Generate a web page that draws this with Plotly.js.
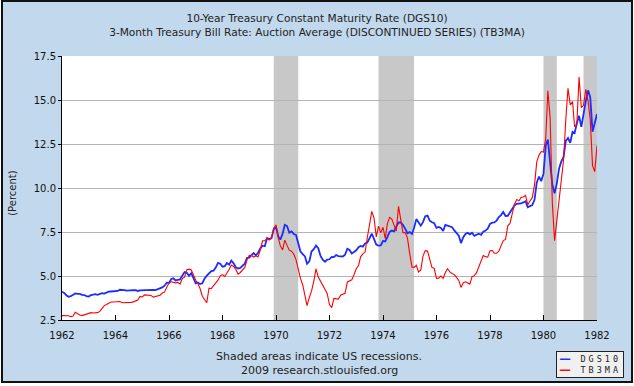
<!DOCTYPE html>
<html><head><meta charset="utf-8">
<script src="https://cdn.plot.ly/plotly-3.0.1.min.js"></script>
<style>
html,body{margin:0;padding:0;background:#fff;}
#chart{position:absolute;left:1px;top:0px;width:628px;height:379px;border:2px solid #111;}
</style></head><body><div id="chart"></div>
<script>
const startYear = 1962;
// DGS10 monthly (Jan 1962 .. Jan 1982)
const dgs10 = [
4.10,4.04,3.90,3.82,3.85,3.91,4.01,3.98,3.98,3.93,3.92,3.86,
3.83,3.92,3.93,3.97,3.93,3.99,4.02,4.00,4.08,4.11,4.12,4.13,
4.17,4.15,4.22,4.23,4.20,4.17,4.19,4.19,4.20,4.19,4.15,4.18,
4.19,4.21,4.21,4.20,4.21,4.21,4.20,4.25,4.29,4.35,4.45,4.62,
4.61,4.83,4.87,4.75,4.78,4.81,5.02,5.22,5.18,5.01,5.16,4.84,
4.58,4.63,4.54,4.59,4.85,5.02,5.16,5.28,5.30,5.48,5.75,5.70,
5.53,5.56,5.74,5.64,5.87,5.72,5.50,5.42,5.46,5.58,5.70,6.03,
6.04,6.19,6.30,6.17,6.32,6.57,6.72,6.69,7.16,7.10,7.14,7.65,
7.79,7.24,7.07,7.39,7.91,7.84,7.46,7.53,7.39,7.33,6.84,6.39,
6.24,6.11,5.70,5.83,6.39,6.52,6.73,6.58,6.14,5.93,5.81,5.93,
5.95,6.08,6.07,6.19,6.13,6.11,6.11,6.21,6.55,6.48,6.28,6.36,
6.46,6.64,6.71,6.67,6.85,6.90,7.13,7.40,7.09,6.79,6.73,6.74,
6.99,6.96,7.21,7.51,7.58,7.54,7.81,8.04,8.04,7.90,7.68,7.43,
7.50,7.39,7.73,8.23,8.06,7.86,8.06,8.40,8.43,8.14,8.05,8.00,
7.74,7.79,7.73,7.56,7.90,7.86,7.83,7.77,7.59,7.41,7.29,6.87,
7.21,7.39,7.46,7.37,7.46,7.28,7.33,7.40,7.34,7.52,7.58,7.69,
7.96,8.03,8.04,8.15,8.35,8.46,8.64,8.41,8.42,8.64,8.81,9.01,
9.10,9.10,9.12,9.18,9.25,8.91,8.95,9.03,9.33,10.30,10.65,10.39,
10.80,12.41,12.75,11.47,10.18,9.70,10.25,11.10,11.51,11.75,12.68,12.84,
12.57,13.19,13.12,13.68,14.10,13.47,14.28,14.94,15.55,15.15,13.20,13.72,
14.20
];
// TB3MA monthly (Jan 1962 .. Jan 1982)
const tb3ma = [
2.75,2.75,2.72,2.74,2.69,2.72,2.94,2.84,2.79,2.75,2.80,2.86,
2.91,2.92,2.90,2.91,2.92,2.99,3.18,3.32,3.38,3.45,3.52,3.52,
3.53,3.53,3.55,3.48,3.48,3.48,3.46,3.50,3.53,3.57,3.64,3.84,
3.81,3.93,3.93,3.93,3.89,3.80,3.84,3.84,3.91,4.03,4.08,4.36,
4.60,4.67,4.63,4.61,4.64,4.54,4.86,4.93,5.36,5.39,5.34,5.01,
4.76,4.55,4.29,3.85,3.64,3.48,4.31,4.28,4.45,4.59,4.76,5.01,
5.08,4.97,5.14,5.37,5.62,5.54,5.38,5.10,5.20,5.33,5.49,5.92,
6.18,6.16,6.08,6.15,6.08,6.49,7.00,7.01,7.13,7.04,7.19,7.72,
7.91,7.16,6.71,6.48,7.04,6.74,6.47,6.41,6.24,5.93,5.29,4.86,
4.49,3.77,3.32,3.78,4.14,4.70,5.40,4.94,4.69,4.46,4.22,4.01,
3.38,3.20,3.73,3.71,3.69,3.91,3.98,4.02,4.66,4.74,4.78,5.07,
5.41,5.60,6.09,6.26,6.36,7.19,8.01,8.67,8.29,7.22,7.83,7.45,
7.77,7.12,7.96,8.33,8.23,7.90,7.55,8.96,8.06,7.46,7.47,7.15,
6.26,5.50,5.49,5.61,5.23,5.34,6.13,6.44,6.42,5.96,5.48,5.44,
4.87,4.88,5.00,4.86,5.20,5.41,5.23,5.14,5.08,4.92,4.75,4.35,
4.62,4.67,4.60,4.54,4.96,5.02,5.19,5.49,5.81,6.16,6.10,6.07,
6.44,6.45,6.29,6.29,6.41,6.73,7.01,7.08,7.85,7.99,8.64,9.08,
9.35,9.27,9.46,9.49,9.58,9.05,9.26,9.45,10.18,11.47,11.87,12.07,
12.04,12.81,15.53,14.00,9.15,7.00,8.13,9.26,10.32,11.58,13.89,15.66,
14.72,14.91,13.48,13.63,16.30,14.56,14.70,15.61,14.95,13.87,11.27,10.93,
12.41
];
const recessionStart = ['1969-12-01','1973-11-01','1980-01-01','1981-07-01'];
const recessionEnd   = ['1970-11-01','1975-03-01','1980-07-01','1982-11-01'];
const xTickYears = [1962,1964,1966,1968,1970,1972,1974,1976,1978,1980,1982];
const yTickVals = [2.5,5.0,7.5,10.0,12.5,15.0,17.5];
const seriesNames = ['DGS10','TB3MA'];
const titleLines = ['10-Year Treasury Constant Maturity Rate (DGS10)','3-Month Treasury Bill Rate: Auction Average (DISCONTINUED SERIES) (TB3MA)'];
const noteLines = ['Shaded areas indicate US recessions.','2009 research.stlouisfed.org'];

function monthDates(n){
  const d=[];
  for(let i=0;i<n;i++){
    const y=startYear+Math.floor(i/12), m=i%12+1;
    d.push(y+'-'+String(m).padStart(2,'0')+'-01');
  }
  return d;
}

const traces = [
  {x: monthDates(dgs10.length), y: dgs10, name: seriesNames[0], type:'scatter', mode:'lines',
   line:{color:'#1a2cff', width:1.8}, showlegend:false},
  {x: monthDates(tb3ma.length), y: tb3ma, name: seriesNames[1], type:'scatter', mode:'lines',
   line:{color:'#ff0000', width:1.1}, showlegend:false}
];

const shapes = recessionStart.map((s,i)=>({
  type:'rect', xref:'x', yref:'paper', x0:s, x1:recessionEnd[i], y0:0, y1:1,
  fillcolor:'#c8c8c8', line:{width:0}, layer:'below'
}));

const baseFont = 'DejaVu Sans, Verdana, sans-serif';
const layout = {
  width:628, height:379,
  margin:{l:59, r:34, t:54, b:61, pad:0},
  paper_bgcolor:'#c2d8ec', plot_bgcolor:'#ffffff',
  title:{text: titleLines.join('<br>'), font:{family:baseFont, size:10.6, color:'#222'},
         x:0.5, xref:'container', y:0.946, yref:'container', yanchor:'middle'},
  xaxis:{type:'date', range:['1962-01-01','1982-01-01'],
         tickvals: xTickYears.map(y=>y+'-01-01'), ticktext: xTickYears.map(String),
         ticks:'inside', ticklen:5, tickcolor:'#000', tickwidth:1, ticklabelstandoff:6,
         showline:true, linecolor:'#000', linewidth:1, showgrid:false, zeroline:false,
         tickfont:{family:baseFont, size:10, color:'#111'}},
  yaxis:{range:[2.5,17.5], tickvals:yTickVals, ticktext: yTickVals.map(v=>v.toFixed(1)),
         ticks:'outside', ticklen:3, tickcolor:'#000', tickwidth:1,
         showline:true, linecolor:'#000', linewidth:1, showgrid:true, gridcolor:'#b4b4b4', gridwidth:1, zeroline:false,
         tickfont:{family:baseFont, size:10, color:'#111'}},
  shapes: shapes,
  annotations:[
    {text:'(Percent)', xref:'paper', yref:'paper', x:-0.0925, y:0.48, textangle:-90, showarrow:false,
     xanchor:'center', yanchor:'middle', font:{family:baseFont, size:10, color:'#222'}},
    {text:noteLines[0], xref:'paper', yref:'paper', x:0.4804, y:-0.1364, showarrow:false,
     xanchor:'center', yanchor:'middle', font:{family:baseFont, size:11, color:'#222'}},
    {text:noteLines[1], xref:'paper', yref:'paper', x:0.4804, y:-0.1913, showarrow:false,
     xanchor:'center', yanchor:'middle', font:{family:baseFont, size:11, color:'#222'}},
    {text:'<span style="color:#1a2cff">━━</span>  <span style="letter-spacing:3px">'+seriesNames[0]+'</span><br><span style="color:#ff0000">━━</span>  <span style="letter-spacing:3px">'+seriesNames[1]+'</span>',
     xref:'paper', yref:'paper', x:0.9234, y:-0.1174, xanchor:'left', yanchor:'top', align:'left', showarrow:false,
     bgcolor:'#f0f0f0', bordercolor:'#222', borderwidth:1, borderpad:2,
     font:{family:'DejaVu Sans Mono, monospace', size:8.5, color:'#222'}}
  ]
};

Plotly.newPlot('chart', traces, layout, {displayModeBar:false, staticPlot:true});
</script></body></html>
